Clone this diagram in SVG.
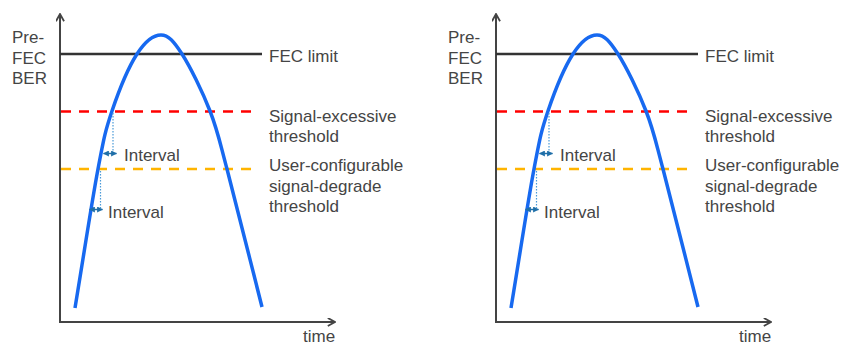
<svg xmlns="http://www.w3.org/2000/svg" width="842" height="345" viewBox="0 0 842 345">
<defs>
<style>
text{font-family:"Liberation Sans",Arial,sans-serif;font-size:17px;fill:#454545}
.axis{stroke:#444;stroke-width:2;fill:none}
.fec{stroke:#333;stroke-width:2.5;fill:none}
.red{stroke:#f00;stroke-width:2.5;stroke-dasharray:10 8;fill:none}
.org{stroke:#ffb400;stroke-width:2.5;stroke-dasharray:10 8;fill:none}
.curve{stroke:#1769f0;stroke-width:3.5;fill:none}
.dot{stroke:#4a9ad8;stroke-width:1.2;stroke-dasharray:1.5 1.5;fill:none}
.intv{stroke:#1f6fa8;stroke-width:1.5;fill:none;marker-start:url(#ah);marker-end:url(#ah)}
</style>
<marker id="open" viewBox="0 0 10 10" refX="9" refY="5" markerWidth="9" markerHeight="9" markerUnits="userSpaceOnUse" orient="auto">
<path d="M1,0.5 L9,5 L1,9.5" fill="none" stroke="#444" stroke-width="2"/>
</marker>
<marker id="ah" viewBox="0 0 10 10" refX="9" refY="5" markerWidth="6" markerHeight="6" markerUnits="userSpaceOnUse" orient="auto-start-reverse">
<path d="M0,0 L10,5 L0,10 z" fill="#1f6fa8"/>
</marker>
</defs>
<g id="chart-left">
<g id="connectors-left">
<path class="axis" d="M60,322 L60,14" marker-end="url(#open)"/>
<path class="axis" d="M59,322 L335,322" marker-end="url(#open)"/>
<path class="fec" d="M60,54 L262,54"/>
<path class="red" d="M61,111.5 L258,111.5"/>
<path class="org" d="M61,169 L258,169"/>
<path class="curve" d="M75,308 C82.7,261.7 91.8,201.8 98,169 C104.2,136.2 105.5,130.2 112,111 C118.5,91.8 128.8,66.7 137,54 C145.2,41.3 153.5,35 161,35 C168.5,35 173.8,41.3 182,54 C190.2,66.7 202.5,91.8 210,111 C217.5,130.2 218.3,136.3 227,169 C235.7,201.7 250.3,261 262,307"/>
<path class="dot" d="M113,113 L113,152"/>
<path class="dot" d="M100.5,171 L100.5,208"/>
<path class="intv" d="M103.5,153.5 L116.5,153.5"/>
<path class="intv" d="M89.5,209.5 L102.5,209.5"/>
</g>
<g id="ylabel-left"><text x="12" y="43">Pre-</text><text x="12" y="64">FEC</text><text x="12" y="84">BER</text></g>
<g id="xlabel-left"><text x="303" y="342">time</text></g>
<g id="fec-left"><text x="269" y="62">FEC limit</text></g>
<g id="sx-left"><text x="269" y="122">Signal-excessive</text><text x="269" y="142">threshold</text></g>
<g id="sd-left"><text x="269" y="171">User-configurable</text><text x="269" y="192">signal-degrade</text><text x="269" y="212">threshold</text></g>
<g id="int1-left"><text x="124" y="161">Interval</text></g>
<g id="int2-left"><text x="108" y="218">Interval</text></g>
</g>
<g id="chart-right" transform="translate(436,0)">
<g id="connectors-right">
<path class="axis" d="M60,322 L60,14" marker-end="url(#open)"/>
<path class="axis" d="M59,322 L335,322" marker-end="url(#open)"/>
<path class="fec" d="M60,54 L262,54"/>
<path class="red" d="M61,111.5 L258,111.5"/>
<path class="org" d="M61,169 L258,169"/>
<path class="curve" d="M75,308 C82.7,261.7 91.8,201.8 98,169 C104.2,136.2 105.5,130.2 112,111 C118.5,91.8 128.8,66.7 137,54 C145.2,41.3 153.5,35 161,35 C168.5,35 173.8,41.3 182,54 C190.2,66.7 202.5,91.8 210,111 C217.5,130.2 218.3,136.3 227,169 C235.7,201.7 250.3,261 262,307"/>
<path class="dot" d="M113,113 L113,152"/>
<path class="dot" d="M100.5,171 L100.5,208"/>
<path class="intv" d="M103.5,153.5 L116.5,153.5"/>
<path class="intv" d="M89.5,209.5 L102.5,209.5"/>
</g>
<g id="ylabel-right"><text x="12" y="43">Pre-</text><text x="12" y="64">FEC</text><text x="12" y="84">BER</text></g>
<g id="xlabel-right"><text x="303" y="342">time</text></g>
<g id="fec-right"><text x="269" y="62">FEC limit</text></g>
<g id="sx-right"><text x="269" y="122">Signal-excessive</text><text x="269" y="142">threshold</text></g>
<g id="sd-right"><text x="269" y="171">User-configurable</text><text x="269" y="192">signal-degrade</text><text x="269" y="212">threshold</text></g>
<g id="int1-right"><text x="124" y="161">Interval</text></g>
<g id="int2-right"><text x="108" y="218">Interval</text></g>
</g>
</svg>
